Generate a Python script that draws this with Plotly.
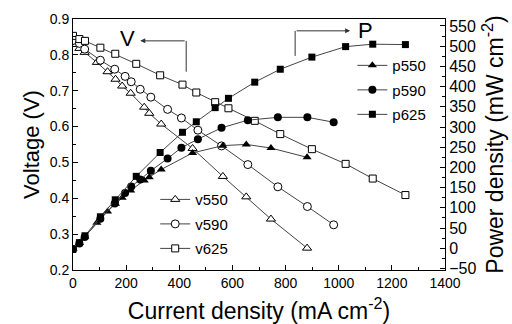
import plotly.graph_objects as go

# ---- data ----
v550_x = [0, 24, 44, 90, 130, 160, 185, 217, 268, 287, 332, 450, 564, 652, 745, 881]
v550_v = [0.829, 0.818, 0.807, 0.779, 0.753, 0.732, 0.713, 0.693, 0.654, 0.637, 0.607, 0.539, 0.461, 0.404, 0.342, 0.261]
p550_p = [-2, 13, 29, 63, 91, 110, 125, 143, 168, 176, 195, 236, 254, 257, 248, 225]

v590_x = [0, 24, 44, 103, 157, 196, 219, 253, 293, 356, 408, 470, 559, 658, 771, 882, 981]
v590_v = [0.840, 0.832, 0.816, 0.785, 0.760, 0.740, 0.725, 0.704, 0.682, 0.648, 0.624, 0.590, 0.546, 0.494, 0.432, 0.377, 0.326]
p590_p = [-2, 12, 28, 73, 111, 137, 153, 170, 192, 222, 249, 270, 298, 317, 324, 324, 312]

v625_x = [0, 24, 45, 103, 159, 238, 328, 412, 464, 535, 585, 684, 780, 899, 1026, 1128, 1251]
v625_v = [0.853, 0.844, 0.839, 0.820, 0.803, 0.775, 0.743, 0.717, 0.695, 0.668, 0.651, 0.616, 0.579, 0.537, 0.496, 0.455, 0.409]
p625_p = [-2, 14, 31, 78, 120, 178, 237, 287, 313, 348, 371, 411, 443, 473, 499, 505, 504]

FONT = "Liberation Sans, Arial, sans-serif"
LINE = dict(color="#444", width=1)

fig = go.Figure()

def vtrace(x, y, name, sym, size):
    return go.Scatter(x=x, y=y, name=name, mode="lines+markers", line=LINE,
                      marker=dict(symbol=sym, size=size, color="white",
                                  line=dict(color="black", width=1)),
                      legend="legend", legendgroup=name)

def ptrace(x, y, name, sym, size):
    return go.Scatter(x=x, y=y, name=name, mode="lines+markers", line=LINE,
                      marker=dict(symbol=sym, size=size, color="black",
                                  line=dict(color="black", width=0)),
                      yaxis="y2", legend="legend2", legendgroup=name)

fig.add_trace(vtrace(v550_x, v550_v, "v550", "triangle-up", 8))
fig.add_trace(vtrace(v590_x, v590_v, "v590", "circle", 8))
fig.add_trace(vtrace(v625_x, v625_v, "v625", "square", 7))
fig.add_trace(ptrace(v550_x, p550_p, "p550", "triangle-up", 8))
fig.add_trace(ptrace(v590_x, p590_p, "p590", "circle", 8))
fig.add_trace(ptrace(v625_x, p625_p, "p625", "square", 7))

axis_common = dict(showline=True, linecolor="black", linewidth=1, ticks="inside",
                   tickcolor="black", ticklen=5, showgrid=False, zeroline=False,
                   automargin=False)

TICKF = dict(family=FONT, size=14, color="black")
TITLEF = dict(family=FONT, size=22, color="black")

fig.update_layout(
    width=512, height=324,
    margin=dict(l=73, r=67, t=19, b=54),
    paper_bgcolor="white", plot_bgcolor="white",
    font=dict(family=FONT, color="black"),
    xaxis=dict(range=[0, 1400], dtick=200, mirror=True, tickfont=TICKF,
               minor=dict(ticks="inside", ticklen=3, dtick=100, tickcolor="black"),
               title=dict(text="Current density (mA cm<sup>-2</sup>)",
                          font=dict(family=FONT, size=23, color="black"), standoff=15),
               **axis_common),
    yaxis=dict(range=[0.2, 0.9], dtick=0.1, tickformat=".1f", tickfont=TICKF,
               minor=dict(ticks="inside", ticklen=3, dtick=0.05, tickcolor="black"),
               title=dict(text="Voltage (V)", font=TITLEF, standoff=4),
               **axis_common),
    yaxis2=dict(range=[-53.7, 567.3], dtick=50, overlaying="y", side="right",
                tickfont=dict(family=FONT, size=16, color="black"),
                minor=dict(ticks="inside", ticklen=3, dtick=25, tickcolor="black"),
                title=dict(text="Power density (mW cm<sup>-2</sup>)",
                           font=dict(family=FONT, size=23, color="black"), standoff=11),
                **axis_common),
    legend=dict(x=0.221, y=0.346, xanchor="left", yanchor="top",
                bgcolor="rgba(0,0,0,0)", tracegroupgap=2, traceorder="grouped",
                font=dict(family=FONT, size=15)),
    legend2=dict(x=0.751, y=0.880, xanchor="left", yanchor="top",
                 bgcolor="rgba(0,0,0,0)", tracegroupgap=2, traceorder="grouped",
                 font=dict(family=FONT, size=15)),
    showlegend=True,
)

# V arrow
fig.add_shape(type="line", x0=426, x1=426, y0=0.753, y1=0.839, line=dict(color="#333", width=1))
fig.add_annotation(x=253, y=0.839, ax=426, ay=0.839, xref="x", yref="y", axref="x", ayref="y",
                   showarrow=True, arrowhead=2, arrowsize=1, arrowwidth=1, arrowcolor="#333", text="")
fig.add_annotation(x=206, y=0.846, text="V", showarrow=False,
                   font=dict(family=FONT, size=22, color="black"))
# P arrow
fig.add_shape(type="line", x0=836, x1=836, y0=0.797, y1=0.867, line=dict(color="#333", width=1))
fig.add_annotation(x=1043, y=0.867, ax=836, ay=0.867, xref="x", yref="y", axref="x", ayref="y",
                   showarrow=True, arrowhead=2, arrowsize=1, arrowwidth=1, arrowcolor="#333", text="")
fig.add_annotation(x=1100, y=0.869, text="P", showarrow=False,
                   font=dict(family=FONT, size=22, color="black"))

fig.write_html("out.html", config={"displayModeBar": False},
               post_script="document.body.style.margin='0';document.body.style.padding='0';")
